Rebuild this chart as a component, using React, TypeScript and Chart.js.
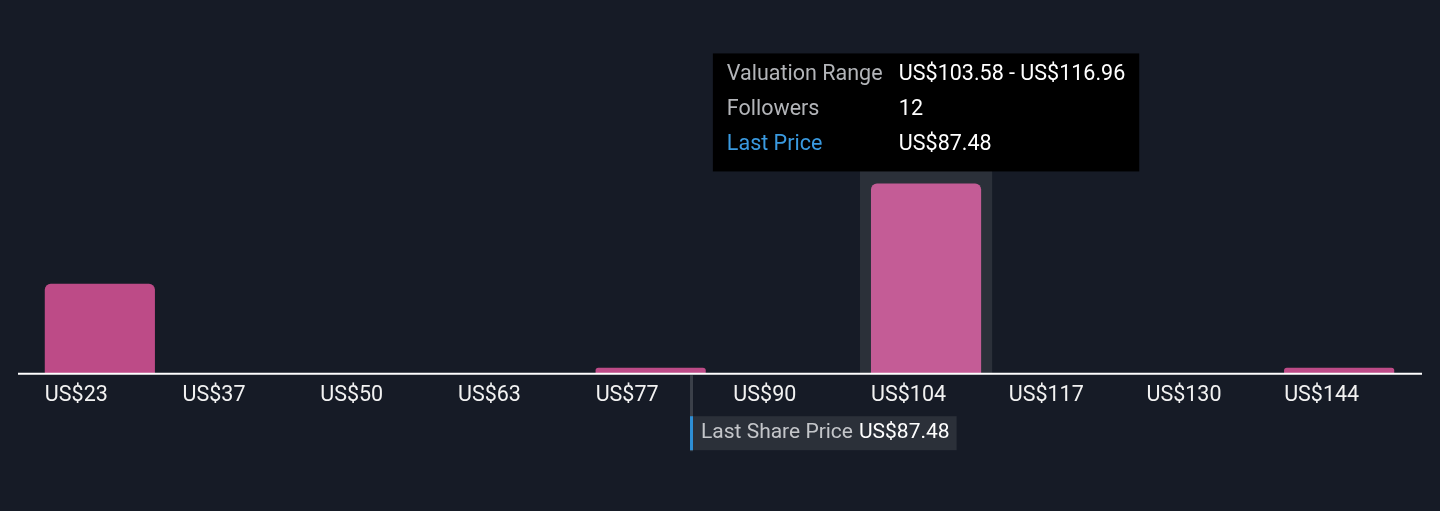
import React, { useEffect, useRef } from "react";
import { Chart, registerables } from "chart.js";

Chart.register(...registerables);

const binStarts = [23.3, 36.68, 50.06, 63.44, 76.82, 90.2, 103.58, 116.96, 130.34, 143.72];
const binWidth = 13.38;
const tickLabels = ["US$23", "US$37", "US$50", "US$63", "US$77", "US$90", "US$104", "US$117", "US$130", "US$144"];
const followers = [5.65, 0, 0, 0, 0.35, 0, 12, 0, 0, 0.35];
const followerCounts = ["6", "0", "0", "0", "1", "0", "12", "0", "0", "1"];
const lastPrice = 87.48;
const activeIndex = 6;

const BG = "#161b26";
const FONT = "Roboto, 'Noto Sans', sans-serif";

const fmt = (v: number) => "US$" + v.toFixed(2);

const highlightPlugin = {
  id: "highlight",
  beforeDatasetsDraw(chart: any) {
    const { ctx, chartArea, scales } = chart;
    const x = scales.x;
    const slot = (x.getPixelForValue(9) - x.getPixelForValue(0)) / 9;
    const cx = x.getPixelForValue(activeIndex);
    const w = slot * 0.96;
    ctx.save();
    ctx.fillStyle = "#2b3039";
    ctx.fillRect(cx - w / 2, chartArea.top, w, chartArea.bottom - chartArea.top);
    ctx.restore();
  },
};

const overlayPlugin = {
  id: "overlay",
  afterDraw(chart: any) {
    const { ctx, chartArea, scales } = chart;
    const x = scales.x;
    const y = scales.y;
    const slot = (x.getPixelForValue(9) - x.getPixelForValue(0)) / 9;
    const bottom = chartArea.bottom;
    ctx.save();

    // axis line
    ctx.strokeStyle = "#ffffff";
    ctx.lineWidth = 2;
    ctx.beginPath();
    ctx.moveTo(chartArea.left - 13, bottom + 0.5);
    ctx.lineTo(chartArea.right + 14, bottom + 0.5);
    ctx.stroke();

    // last price marker
    const frac = (lastPrice - binStarts[0]) / binWidth;
    const px = x.getPixelForValue(0) - slot / 2 + frac * slot;
    ctx.fillStyle = "#3b4049";
    ctx.fillRect(px - 1.5, bottom + 2, 3, 76);
    const boxTop = bottom + 43;
    const boxH = 34;
    ctx.font = `21px ${FONT}`;
    const lbl = "Last Share Price";
    const val = fmt(lastPrice);
    const lw = ctx.measureText(lbl).width;
    const vw = ctx.measureText(val).width;
    const boxW = 3 + 8 + lw + 6 + vw + 7;
    ctx.fillStyle = "#2b3039";
    ctx.fillRect(px - 1.5, boxTop, boxW, boxH);
    ctx.fillStyle = "#2e8fd6";
    ctx.fillRect(px - 1.5, boxTop, 3, boxH);
    ctx.textBaseline = "middle";
    ctx.textAlign = "left";
    ctx.fillStyle = "#c4c6ca";
    ctx.fillText(lbl, px + 9.5, boxTop + boxH / 2);
    ctx.fillStyle = "#ffffff";
    ctx.fillText(val, px + 9.5 + lw + 6, boxTop + boxH / 2);

    // tooltip
    const cx = x.getPixelForValue(activeIndex);
    const barTop = y.getPixelForValue(followers[activeIndex]);
    const rows = [
      ["Valuation Range", `${fmt(binStarts[activeIndex])} - ${fmt(binStarts[activeIndex] + binWidth)}`, "#b3b5b9"],
      ["Followers", followerCounts[activeIndex], "#b3b5b9"],
      ["Last Price", fmt(lastPrice), "#3a9ae0"],
    ];
    ctx.font = `21.5px ${FONT}`;
    const colW = 172;
    let maxV = 0;
    rows.forEach((r) => (maxV = Math.max(maxV, ctx.measureText(r[1]).width)));
    const tw = 14 + colW + maxV + 14;
    const th = 118;
    const tx = cx - tw / 2;
    const ty = barTop - 12 - th;
    ctx.fillStyle = "#000000";
    ctx.fillRect(tx, ty, tw, th);
    rows.forEach((r, i) => {
      const ry = ty + 21 + i * 35;
      ctx.fillStyle = r[2];
      ctx.fillText(r[0], tx + 14, ry);
      ctx.fillStyle = "#ffffff";
      ctx.fillText(r[1], tx + 14 + colW, ry);
    });
    ctx.restore();
  },
};

export default function App() {
  const ref = useRef<HTMLCanvasElement | null>(null);
  useEffect(() => {
    if (!ref.current) return;
    const chart = new Chart(ref.current, {
      type: "bar",
      data: {
        labels: tickLabels,
        datasets: [
          {
            data: followers,
            backgroundColor: followers.map((_, i) => (i === activeIndex ? "#c45c96" : "#bd4b87")),
            barPercentage: 0.8,
            categoryPercentage: 1,
            borderRadius: 6,
            borderSkipped: "bottom",
          },
        ],
      },
      options: {
        animation: false,
        responsive: false,
        maintainAspectRatio: false,
        layout: { padding: { top: 136, left: 31, right: 32, bottom: 92 } },
        plugins: { legend: { display: false }, tooltip: { enabled: false } },
        events: [],
        scales: {
          x: {
            grid: { display: false, drawTicks: false },
            border: { display: false },
            ticks: {
              color: "#f2f2f2",
              font: { family: FONT, size: 21.5 },
              align: "start",
              labelOffset: -55,
              padding: 10,
              maxRotation: 0,
              autoSkip: false,
            },
          },
          y: { display: false, min: 0, max: 15 },
        },
      },
      plugins: [highlightPlugin, overlayPlugin],
    });
    return () => chart.destroy();
  }, []);
  return (
    <div style={{ position: "fixed", left: 0, top: 0, width: 1440, height: 511, background: BG }}>
      <canvas ref={ref} width={1440} height={511} style={{ display: "block", width: 1440, height: 511 }} />
    </div>
  );
}
